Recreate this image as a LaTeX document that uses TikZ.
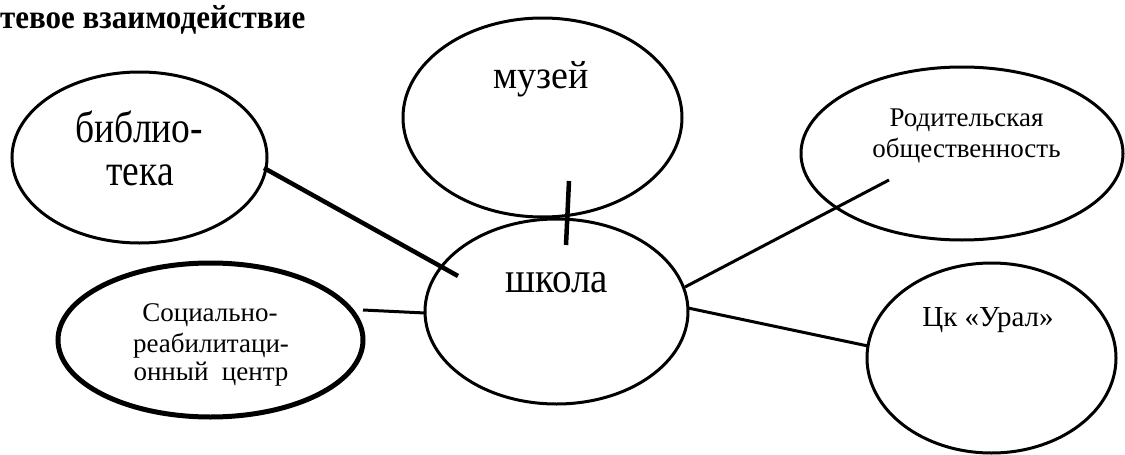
\documentclass[tikz,border=0pt]{standalone}
\usepackage{fontspec}
\setmainfont{Liberation Serif}
\usetikzlibrary{shapes.geometric}
\tikzset{
  oval/.style={draw=black, ellipse, inner sep=0pt, outer sep=0pt, line width=3pt},
  ovalthick/.style={oval, line width=5pt},
  txt/.style={anchor=base, inner sep=0pt, outer sep=0pt, text=black},
  link/.style={draw=black, line width=3pt},
  linkthick/.style={draw=black, line width=4.5pt},
}
\newcommand{\vst}[2]{\scalebox{1}[#1]{#2}}
\begin{document}
\begin{tikzpicture}[x=1pt, y=-1pt]
\useasboundingbox (0,0) rectangle (1125,455);
\fill[white] (0,0) rectangle (1125,455);
% title
\node[anchor=base west, inner sep=0pt, font=\bfseries\fontsize{31}{36}\selectfont] (title) at (0,28) {\vst{1.08}{тевое взаимодействие}};
% ellipses
\node[oval, minimum width=255pt, minimum height=171pt] (lib) at (139.5,157.5) {};
\node[oval, minimum width=279pt, minimum height=199pt] (mus) at (542.5,117.5) {};
\node[oval, minimum width=263pt, minimum height=185pt] (sch) at (556.5,311.5) {};
\node[oval, minimum width=322pt, minimum height=173pt] (par) at (962,153.5) {};
\node[oval, minimum width=249pt, minimum height=190pt] (ural) at (991.5,358) {};
\node[ovalthick, minimum width=305pt, minimum height=154pt] (soc) at (210.5,340) {};
% texts
\node[txt, font=\fontsize{37.5}{44}\selectfont] (libt1) at (139.5,142) {\vst{1.18}{библио-}};
\node[txt, font=\fontsize{37.5}{44}\selectfont] (libt2) at (140,185) {\vst{1.18}{тека}};
\node[txt, font=\fontsize{38}{44}\selectfont] (must) at (541.5,88) {\vst{1.04}{музей}};
\node[txt, font=\fontsize{39}{44}\selectfont] (scht) at (556.5,292) {\vst{1.1}{школа}};
\node[txt, font=\fontsize{27}{31}\selectfont] (part1) at (966.5,126) {Родительская};
\node[txt, font=\fontsize{27}{31}\selectfont] (part2) at (966.5,157) {общественность};
\node[txt, font=\fontsize{29}{32}\selectfont] (uralt) at (988,326) {Цк «Урал»};
\node[txt, font=\fontsize{27}{31}\selectfont] (soct1) at (210,321) {Социально-};
\node[txt, font=\fontsize{27}{31}\selectfont] (soct2) at (211,352) {реабилитаци-};
\node[txt, font=\fontsize{27}{31}\selectfont] (soct3) at (211,380) {онный\ \ центр};
% connector ends
\coordinate (libA) at (264,168);
\coordinate (schA) at (458,276);
\coordinate (musA) at (569,181);
\coordinate (schB) at (566,245);
\coordinate (socA) at (363,310);
\coordinate (schC) at (425,313);
\coordinate (schD) at (685,287);
\coordinate (parA) at (889,180);
\coordinate (schE) at (688,308);
\coordinate (uralA) at (868,346);
% connectors
\draw[linkthick] (libA) -- (schA);
\draw[linkthick] (musA) -- (schB);
\draw[link] (socA) -- (schC);
\draw[link] (schD) -- (parA);
\draw[link] (schE) -- (uralA);
\end{tikzpicture}
\end{document}
